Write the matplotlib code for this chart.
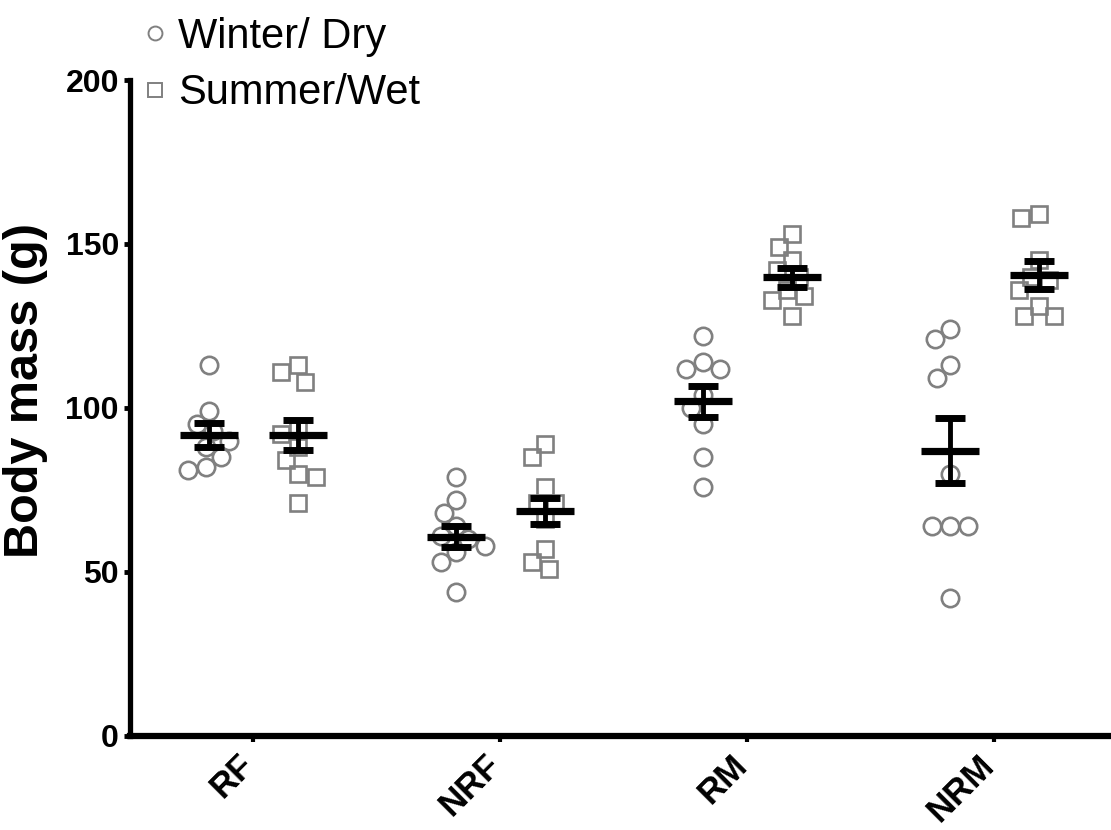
import numpy as np
import matplotlib
matplotlib.use("Agg")
import matplotlib.pyplot as plt
import matplotlib.transforms as mtransforms
from matplotlib.lines import Line2D

plt.rcParams['font.family'] = ['Liberation Sans', 'DejaVu Sans']

groups = ['RF', 'NRF', 'RM', 'NRM']
seasons = ['Winter/ Dry', 'Summer/Wet']

# individual body masses (g)
winter = [
    [113, 99, 95, 93, 90, 88, 85, 82, 81],
    [79, 72, 68, 64, 61, 60, 58, 56, 53, 44],
    [122, 114, 112, 112, 104, 100, 95, 85, 76],
    [124, 121, 113, 109, 80, 64, 64, 64, 42],
]
summer = [
    [113, 111, 108, 94, 92, 88, 84, 80, 79, 71],
    [89, 85, 76, 71, 71, 66, 57, 53, 51],
    [153, 149, 145, 142, 140, 136, 134, 133, 128],
    [159, 158, 145, 140, 139, 136, 131, 128, 128],
]
# mean and SEM as drawn
winter_mean = [91.8, 60.8, 102.0, 87.0]
winter_sem = [3.7, 3.2, 4.8, 10.0]
summer_mean = [91.8, 68.6, 139.8, 140.5]
summer_sem = [4.6, 4.0, 2.9, 4.3]

grey = '#808080'
W, H, DPI = 11.11, 8.3, 100
fig = plt.figure(figsize=(W, H), dpi=DPI)
ax = fig.add_axes([0.117, 0.1133, 0.889, 0.7903])
ax.set_xlim(-0.5, 3.5)
ax.set_ylim(0, 200)

xscale = 0.889 * W * DPI / 4.0
yscale = 0.7903 * H * DPI / 200.0


def swarm(vals, d):
    # simple beeswarm in pixel space, returns x offsets in data units
    ys = np.asarray(vals, float) * yscale
    xs = np.zeros(len(ys))
    done = []
    for i in np.argsort(-ys):
        y = ys[i]
        bad = []
        for j in done:
            dy = abs(ys[j] - y)
            if dy < d:
                h = np.sqrt(d * d - dy * dy)
                bad.append((xs[j] - h, xs[j] + h))
        cands = [0.0] + [e for b in bad for e in b]
        cands.sort(key=abs)
        for c in cands:
            if all(not (lo + 1e-6 < c < hi - 1e-6) for lo, hi in bad):
                xs[i] = c
                break
        done.append(i)
    return xs / xscale


off = 0.18
for k in range(len(groups)):
    for data, mean, sem, sgn, mk in [(winter, winter_mean, winter_sem, -1, 'o'),
                                     (summer, summer_mean, summer_sem, 1, 's')]:
        cx = k + sgn * off
        dx = swarm(data[k], 18)
        ax.plot(cx + dx, data[k], linestyle='none', marker=mk, markersize=12.5 if mk == 'o' else 11.5,
                markerfacecolor='none', markeredgecolor=grey, markeredgewidth=1.9, zorder=2)
        ax.errorbar([cx], [mean[k]], yerr=[sem[k]], fmt='none', ecolor='black',
                    elinewidth=3.5, capsize=11, capthick=5, zorder=3)
        ax.hlines(mean[k], cx - 0.118, cx + 0.118, color='black', linewidth=5.2, zorder=4)

for s in ['top', 'right']:
    ax.spines[s].set_visible(False)
ax.spines['left'].set_linewidth(3.8)
ax.spines['bottom'].set_linewidth(4.5)

ax.set_yticks([0, 50, 100, 150, 200])
ax.set_xticks(range(len(groups)))
ax.set_xticklabels([])
# rotated category labels, drawn as text so they can sit slightly left of the tick
shift = mtransforms.ScaledTranslation(-0.05, -0.24, fig.dpi_scale_trans)
for k, g in enumerate(groups):
    ax.text(k, 0, g, transform=ax.get_xaxis_transform() + shift, rotation=45,
            ha='right', va='center', rotation_mode='anchor', fontsize=25, fontweight='bold')
ax.tick_params(axis='y', length=4, width=3.5, labelsize=23, pad=4)
ax.tick_params(axis='x', length=4, width=3)
for t in ax.get_yticklabels():
    t.set_fontweight('bold')
ax.set_ylabel('Body mass (g)', fontsize=35, fontweight='bold')
ax.yaxis.set_label_coords(-0.083, 0.526)

handles = [Line2D([], [], linestyle='none', marker='o', markersize=10, markerfacecolor='none',
                  markeredgecolor=grey, markeredgewidth=1.4),
           Line2D([], [], linestyle='none', marker='s', markersize=9.5, markerfacecolor='none',
                  markeredgecolor=grey, markeredgewidth=1.4)]
fig.legend(handles, seasons, loc='upper left', bbox_to_anchor=(0.102, 1.015), frameon=False,
           fontsize=30, handlelength=0.6, handletextpad=0.25, labelspacing=0.4, borderpad=0.2)

fig.savefig('out.png', dpi=DPI)
